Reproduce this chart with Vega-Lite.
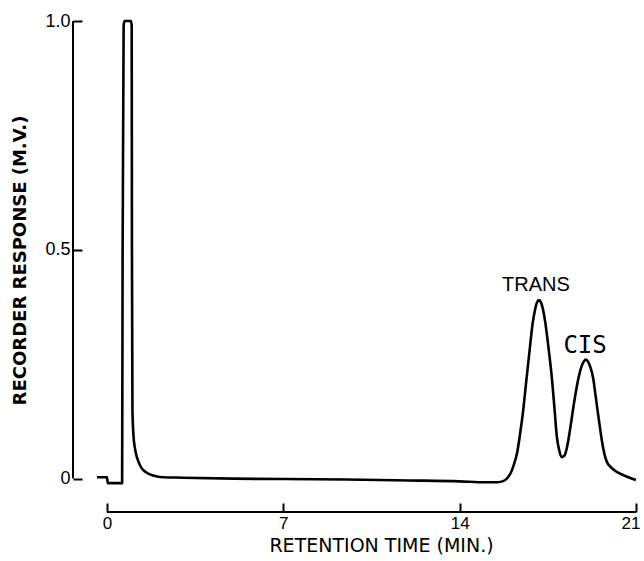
{
  "$schema": "https://vega.github.io/schema/vega-lite/v6.json",
  "autosize": {"type": "none"},
  "padding": {"left": 73, "top": 21, "right": 3, "bottom": 49},
  "width": 568,
  "height": 491,
  "background": "white",
  "config": {"view": {"stroke": null}, "font": "Liberation Sans"},
  "datasets": {
    "trace": [
      {"t": -0.40, "r": 0.003}, {"t": 0.00, "r": 0.003}, {"t": 0.03, "r": -0.010}, {"t": 0.60, "r": -0.010},
      {"t": 0.62, "r": 0.5}, {"t": 0.66, "r": 0.99}, {"t": 0.70, "r": 1.0}, {"t": 0.95, "r": 1.0},
      {"t": 0.98, "r": 0.99}, {"t": 0.99, "r": 0.5}, {"t": 1.01, "r": 0.15}, {"t": 1.05, "r": 0.095},
      {"t": 1.11, "r": 0.066}, {"t": 1.18, "r": 0.048}, {"t": 1.25, "r": 0.037}, {"t": 1.33, "r": 0.027},
      {"t": 1.43, "r": 0.019}, {"t": 1.60, "r": 0.012}, {"t": 1.83, "r": 0.007}, {"t": 2.22, "r": 0.003},
      {"t": 3.0, "r": 0.002}, {"t": 5.0, "r": 0.0}, {"t": 7.0, "r": -0.001}, {"t": 9.5, "r": -0.002},
      {"t": 12.0, "r": -0.004}, {"t": 14.0, "r": -0.006}, {"t": 15.0, "r": -0.008}, {"t": 15.5, "r": -0.008},
      {"t": 15.75, "r": -0.005}, {"t": 15.92, "r": 0.003}, {"t": 16.05, "r": 0.015}, {"t": 16.15, "r": 0.030},
      {"t": 16.28, "r": 0.056}, {"t": 16.40, "r": 0.098}, {"t": 16.51, "r": 0.143}, {"t": 16.65, "r": 0.215},
      {"t": 16.79, "r": 0.287}, {"t": 16.90, "r": 0.340}, {"t": 16.99, "r": 0.368}, {"t": 17.07, "r": 0.385},
      {"t": 17.15, "r": 0.390}, {"t": 17.23, "r": 0.385}, {"t": 17.30, "r": 0.372}, {"t": 17.39, "r": 0.345},
      {"t": 17.53, "r": 0.285}, {"t": 17.67, "r": 0.215}, {"t": 17.77, "r": 0.150}, {"t": 17.86, "r": 0.091},
      {"t": 17.96, "r": 0.060}, {"t": 18.06, "r": 0.047}, {"t": 18.16, "r": 0.050}, {"t": 18.26, "r": 0.068},
      {"t": 18.38, "r": 0.106}, {"t": 18.54, "r": 0.165}, {"t": 18.70, "r": 0.215}, {"t": 18.82, "r": 0.242},
      {"t": 18.92, "r": 0.255}, {"t": 19.00, "r": 0.260}, {"t": 19.08, "r": 0.257}, {"t": 19.18, "r": 0.245},
      {"t": 19.30, "r": 0.220}, {"t": 19.40, "r": 0.180}, {"t": 19.49, "r": 0.143}, {"t": 19.60, "r": 0.100},
      {"t": 19.69, "r": 0.069}, {"t": 19.78, "r": 0.047}, {"t": 19.85, "r": 0.036}, {"t": 20.0, "r": 0.025},
      {"t": 20.2, "r": 0.016}, {"t": 20.4, "r": 0.010}, {"t": 20.7, "r": 0.003}, {"t": 21.0, "r": -0.003}
    ],
    "axes": [
      {"t": 0, "t2": 21, "r": -0.073, "r2": -0.073},
      {"t": -1.35, "t2": -1.35, "r": 0, "r2": 1}
    ],
    "labels": [
      {"t": 17.03, "r": 0.423, "label": "TRANS"},
      {"t": 18.98, "r": 0.29, "label": "CIS"}
    ]
  },
  "encoding": {
    "x": {
      "field": "t", "type": "quantitative",
      "scale": {"domain": [-1.35, 21.2], "nice": false, "zero": false},
      "axis": {
        "title": "RETENTION TIME (MIN.)", "values": [0, 7, 14, 21], "domain": false, "grid": false,
        "tickSize": -9, "tickWidth": 2, "tickColor": "black", "labelPadding": 12,
        "labelFlush": 10, "labelFlushOffset": 4,
        "labelFont": "Liberation Sans", "labelFontSize": 17, "labelColor": "black",
        "titleFont": "DejaVu Sans", "titleFontSize": 19, "titleFontWeight": "normal", "titleColor": "black",
        "titleX": 308, "titleAnchor": "middle", "titlePadding": 5
      }
    },
    "y": {
      "field": "r", "type": "quantitative",
      "scale": {"domain": [-0.073, 1.0], "nice": false, "zero": false},
      "axis": {
        "title": "RECORDER RESPONSE (M.V.)", "values": [0, 0.5, 1], "domain": false, "grid": false,
        "labelExpr": "datum.value == 0 ? '0' : format(datum.value, '.1f')",
        "tickSize": -9, "tickWidth": 2, "tickColor": "black", "labelPadding": 12,
        "labelFont": "Liberation Sans", "labelFontSize": 18, "labelColor": "black",
        "titleFont": "DejaVu Sans", "titleFontSize": 18, "titleFontWeight": "bold", "titleColor": "black",
        "titleX": -53, "titleY": 239, "titleBaseline": "middle", "titleAnchor": "middle"
      }
    }
  },
  "layer": [
    {
      "data": {"name": "axes"},
      "mark": {"type": "rule", "color": "black", "strokeWidth": 2},
      "encoding": {"x2": {"field": "t2"}, "y2": {"field": "r2"}}
    },
    {
      "data": {"name": "trace"},
      "mark": {"type": "line", "color": "black", "strokeWidth": 2.6, "interpolate": "monotone", "strokeJoin": "round"},
      "encoding": {"order": {"field": "t", "type": "quantitative"}}
    },
    {
      "data": {"name": "labels"},
      "transform": [{"filter": "datum.label == 'TRANS'"}],
      "mark": {"type": "text", "font": "Liberation Sans", "fontSize": 20, "color": "black", "baseline": "middle", "align": "center"},
      "encoding": {"text": {"field": "label"}}
    },
    {
      "data": {"name": "labels"},
      "transform": [{"filter": "datum.label == 'CIS'"}],
      "mark": {"type": "text", "font": "DejaVu Sans Mono", "fontSize": 24, "color": "black", "baseline": "middle", "align": "center"},
      "encoding": {"text": {"field": "label"}}
    }
  ]
}
